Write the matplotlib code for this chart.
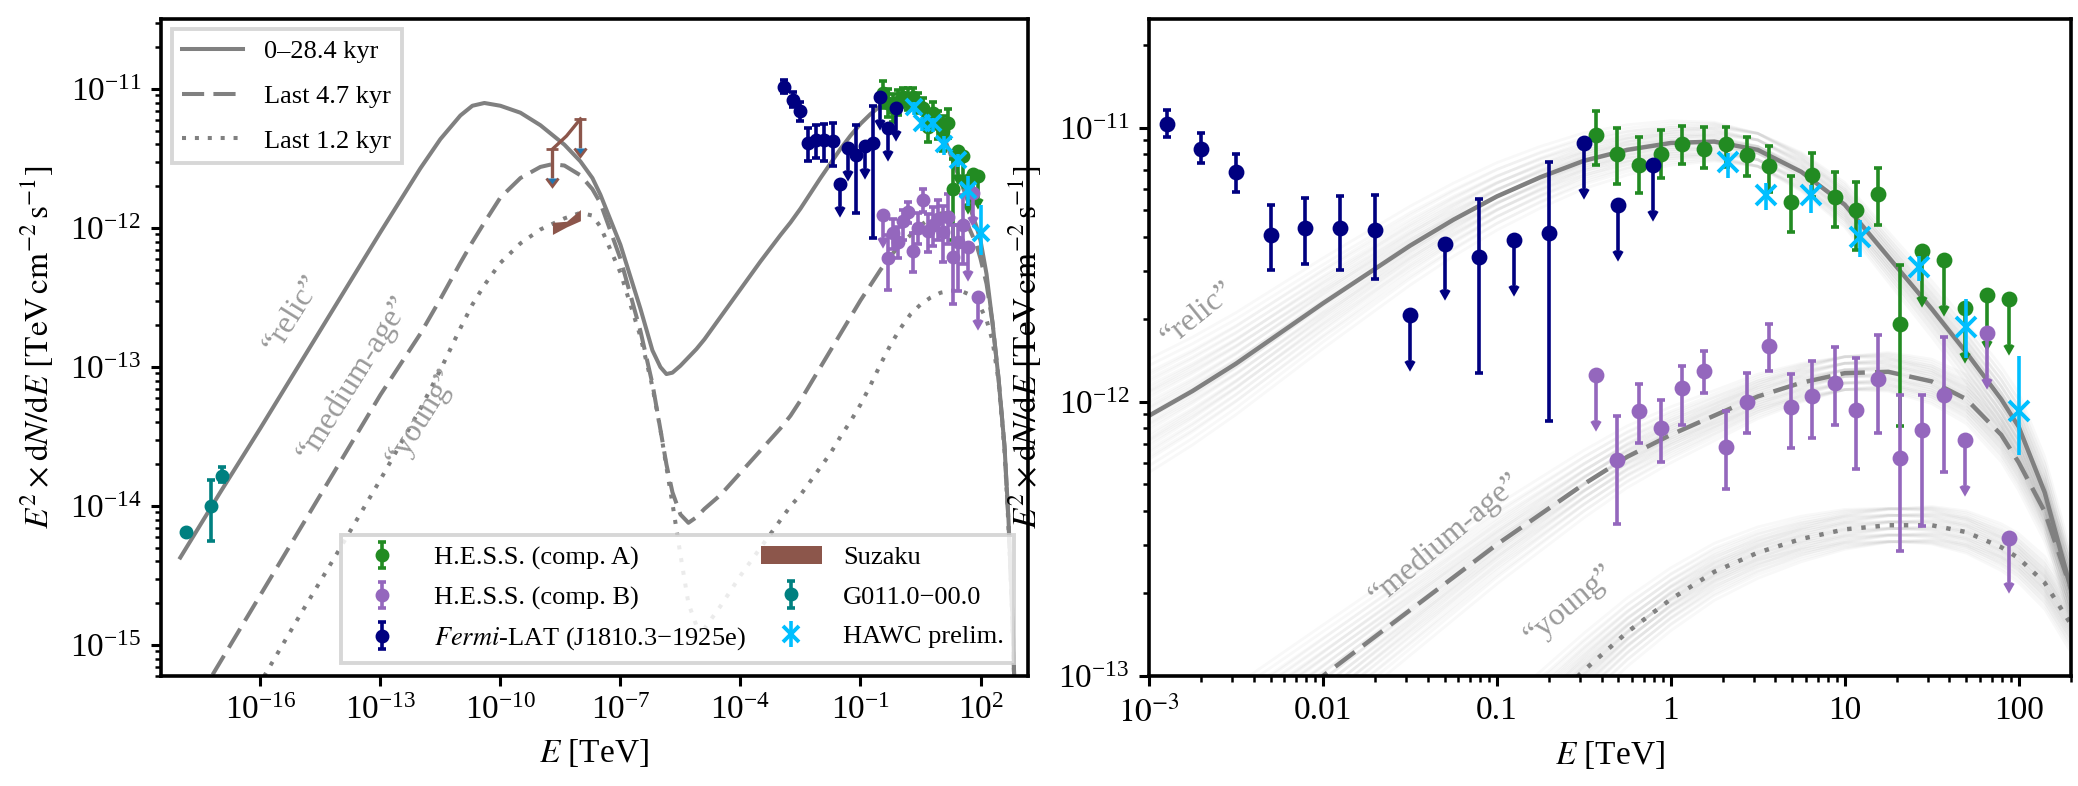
import numpy as np
import matplotlib
matplotlib.use("Agg")
import matplotlib.pyplot as plt
from matplotlib.ticker import LogLocator, NullFormatter, NullLocator, FixedLocator

plt.rcParams['font.family'] = 'serif'
plt.rcParams['font.serif'] = ['Liberation Serif', 'DejaVu Serif']
plt.rcParams['mathtext.fontset'] = 'stix'

# ---------------- model curves (log10 E [TeV], log10 E^2 dN/dE) ----------------
model_logE = [-18, -17, -16, -15, -14, -13, -12, -11.5, -11, -10.7, -10.4, -10, -9.5, -9,
              -8.7, -8.4, -8, -7.7, -7.5, -7, -6.5, -6.2, -6, -5.85, -5.7, -5.5, -5.3,
              -5.1, -4.9, -4.5, -4, -3.5, -3,
              -2.75, -2.5, -2.25, -2, -1.75, -1.5, -1.25, -1, -0.75, -0.5, -0.25, 0,
              0.25, 0.5, 0.75, 1.0, 1.25, 1.5, 1.7, 1.9, 2.0, 2.15, 2.3, 2.45, 2.6, 2.7,
              2.8, 2.87]
relic_logF = [-14.37, -13.90, -13.44, -12.97, -12.50, -12.03, -11.57, -11.36, -11.19, -11.12,
              -11.10, -11.12, -11.17, -11.26, -11.33, -11.40, -11.52, -11.64, -11.76, -12.12,
              -12.58, -12.88, -13.00, -13.05, -13.04, -12.99, -12.93, -12.87, -12.80, -12.64,
              -12.44, -12.24, -12.05,
              -11.96, -11.86, -11.75, -11.64, -11.535, -11.43, -11.335, -11.25, -11.18,
              -11.12, -11.08, -11.055, -11.05, -11.08, -11.16, -11.28, -11.47, -11.66,
              -11.82, -11.99, -12.09, -12.33, -12.68, -13.08, -13.57, -14.10, -14.80, -15.50]
medium_logF = [-15.60, -15.12, -14.64, -14.16, -13.68, -13.20, -12.76, -12.51, -12.25, -12.10,
               -11.96, -11.78, -11.64, -11.56, -11.54, -11.55, -11.62, -11.72, -11.82, -12.22,
               -12.74, -13.12, -13.45, -13.70, -13.90, -14.06, -14.12, -14.08, -14.02, -13.92,
               -13.76, -13.60, -13.44,
               -13.35, -13.24, -13.12, -13.00, -12.88, -12.76, -12.64, -12.52, -12.41,
               -12.30, -12.20, -12.12, -12.05, -11.98, -11.93, -11.895, -11.89, -11.925,
               -11.99, -12.12, -12.22, -12.40, -12.68, -13.08, -13.57, -14.12, -14.82, -15.52]
young_logF = [-16.23, -15.75, -15.27, -14.78, -14.30, -13.81, -13.30, -13.02, -12.72, -12.55,
              -12.41, -12.25, -12.11, -12.01, -11.97, -11.93, -11.89, -11.91, -11.99, -12.32,
              -12.78, -13.14, -13.45, -13.72, -13.98, -14.35, -14.70, -14.86, -14.88, -14.72,
              -14.50, -14.30, -14.10,
              -14.00, -13.92, -13.82, -13.72, -13.62, -13.50, -13.39, -13.27, -13.13,
              -12.98, -12.84, -12.72, -12.62, -12.55, -12.50, -12.465, -12.45, -12.45,
              -12.475, -12.53, -12.57, -12.66, -12.81, -13.10, -13.60, -14.15, -14.85, -15.55]

# ---------------- data ----------------
hess_E = [0.37, 0.49, 0.656, 0.875, 1.16, 1.55, 2.07, 2.75, 3.66, 4.88, 6.5, 8.74, 11.6,
          15.5, 20.7, 27.8, 37.0, 49.3, 65.6, 87.5]
hessA_F = [9.4e-12, 8.0e-12, 7.33e-12, 8.04e-12, 8.76e-12, 8.4e-12, 8.76e-12, 7.94e-12,
           7.27e-12, 5.38e-12, 6.74e-12, 5.58e-12, 5.0e-12, 5.74e-12, 1.92e-12, 3.56e-12,
           3.29e-12, 2.21e-12, 2.46e-12, 2.38e-12]
hessA_lo = [7.3e-12, 6.25e-12, 5.77e-12, 6.55e-12, 7.4e-12, 7.13e-12, 7.2e-12, 6.7e-12,
            5.85e-12, 4.18e-12, 5.61e-12, 4.35e-12, 3.57e-12, 4.42e-12, 8.15e-13,
            np.nan, np.nan, np.nan, np.nan, np.nan]
hessA_hi = [1.15e-11, 1.0e-11, 9.24e-12, 9.86e-12, 1.02e-11, 1.01e-11, 1.01e-11, 9.3e-12,
            8.57e-12, 6.65e-12, 8.1e-12, 6.93e-12, 6.37e-12, 7.17e-12, 3.15e-12,
            np.nan, np.nan, np.nan, np.nan, np.nan]
hessA_ul = [False] * 15 + [True] * 5

hessB_F = [1.25e-12, 6.14e-13, 9.24e-13, 8.0e-13, 1.12e-12, 1.3e-12, 6.87e-13, 1.0e-12,
           1.6e-12, 9.56e-13, 1.05e-12, 1.17e-12, 9.37e-13, 1.21e-12, 6.22e-13, 7.9e-13,
           1.06e-12, 7.27e-13, 1.78e-12, 3.2e-13]
hessB_lo = [np.nan, 3.59e-13, 7.07e-13, 6.05e-13, 8.26e-13, 1.08e-12, 4.83e-13, 7.7e-13,
            1.3e-12, 6.78e-13, 7.38e-13, 8.26e-13, 5.7e-13, 7.7e-13, 2.86e-13, 3.54e-13,
            5.56e-13, np.nan, np.nan, np.nan]
hessB_hi = [np.nan, 8.86e-13, 1.16e-12, 1.02e-12, 1.35e-12, 1.53e-12, 9.24e-13, 1.28e-12,
            1.92e-12, 1.26e-12, 1.41e-12, 1.58e-12, 1.45e-12, 1.75e-12, 1.06e-12, 1.06e-12,
            1.72e-12, np.nan, np.nan, np.nan]
hessB_ul = [True] + [False] * 16 + [True] * 3

fermi_E = [1.26e-3, 2.0e-3, 3.16e-3, 5.0e-3, 7.9e-3, 1.26e-2, 2.0e-2, 3.16e-2, 5.0e-2,
           7.9e-2, 0.126, 0.2, 0.316, 0.5, 0.79]
fermi_F = [1.03e-11, 8.4e-12, 6.9e-12, 4.08e-12, 4.33e-12, 4.3e-12, 4.23e-12, 2.08e-12,
           3.78e-12, 3.38e-12, 3.89e-12, 4.12e-12, 8.8e-12, 5.23e-12, 7.3e-12]
fermi_lo = [9.3e-12, 7.44e-12, 5.85e-12, 3.02e-12, 3.18e-12, 3.04e-12, 2.8e-12, np.nan,
            np.nan, 1.28e-12, np.nan, 8.5e-13, np.nan, np.nan, np.nan]
fermi_hi = [1.16e-11, 9.6e-12, 8.05e-12, 5.23e-12, 5.53e-12, 5.65e-12, 5.69e-12, np.nan,
            np.nan, 5.5e-12, np.nan, 7.5e-12, np.nan, np.nan, np.nan]
fermi_ul = [False] * 7 + [True, True, False, True, False, True, True, True]

hawc_E = [2.12, 3.54, 6.38, 12.2, 26.8, 50.0, 100.0]
hawc_F = [7.48e-12, 5.69e-12, 5.69e-12, 4.0e-12, 3.1e-12, 1.87e-12, 9.25e-13]
hawc_lo = [6.55e-12, 5.0e-12, 4.88e-12, 3.38e-12, 2.77e-12, 1.45e-12, 6.4e-13]
hawc_hi = [8.1e-12, 6.28e-12, 6.2e-12, 4.6e-12, 3.4e-12, 2.38e-12, 1.47e-12]

radio_E = [1.35e-18, 5.75e-18, 1.12e-17]
radio_F = [6.5e-15, 1.0e-14, 1.66e-14]
radio_lo = [6.5e-15, 5.6e-15, 1.48e-14]
radio_hi = [6.5e-15, 1.55e-14, 1.9e-14]

suzaku_E = [2e-9, 4.5e-9, 1e-8]
suzaku_lo = [0.90e-12, 1.02e-12, 1.13e-12]
suzaku_hi = [1.10e-12, 1.12e-12, 1.36e-12]
suzaku_ul = [3.7e-12, 4.6e-12, 6.1e-12]

# ---------------- styles ----------------
C_A, C_B, C_F = '#228b22', '#9467bd', '#000080'
C_H, C_R, C_S = '#00bfff', '#008080', '#8c564b'
GREY = '#808080'
LS = {'relic': '-', 'medium': (0, (5.5, 2.3)), 'young': (0, (1, 2.2))}


def points(ax, E, F, lo, hi, ul, color, label, ms):
    F = np.asarray(F)
    lo = np.asarray(lo, float)
    hi = np.asarray(hi, float)
    ul = np.asarray(ul, bool)
    elo = np.where(ul, 0.32 * F, F - np.nan_to_num(lo))
    ehi = np.where(ul, 0.0, np.nan_to_num(hi) - F)
    return ax.errorbar(E, F, yerr=[elo, ehi], uplims=ul, fmt='o', color=color, ms=ms,
                       elinewidth=1.3, capsize=1.6, capthick=1.3, label=label, zorder=5)


def hawc(ax, ms, label=None):
    F = np.asarray(hawc_F)
    return ax.errorbar(hawc_E, F, yerr=[F - np.asarray(hawc_lo), np.asarray(hawc_hi) - F],
                       fmt='x', color=C_H, ms=ms, mew=1.4, elinewidth=1.3, capsize=0,
                       label=label, zorder=6)


logE = np.asarray(model_logE)
E_mod = 10 ** logE
curves = [('relic', relic_logF, 0.5), ('medium', medium_logF, 1.0), ('young', young_logF, 1.3)]

fig = plt.figure(figsize=(10.39, 3.93), dpi=200)
ax1 = fig.add_axes([0.0775, 0.140, 0.417, 0.836])
ax2 = fig.add_axes([0.553, 0.140, 0.4436, 0.836])

# ---------------- left panel ----------------
labels = {'relic': '0–28.4 kyr', 'medium': 'Last 4.7 kyr', 'young': 'Last 1.2 kyr'}
line_handles = []
for key, lf, _ in curves:
    h, = ax1.plot(E_mod, 10 ** np.asarray(lf), color=GREY, lw=1.45, ls=LS[key],
                  label=labels[key], zorder=2)
    line_handles.append(h)

hA = points(ax1, hess_E, hessA_F, hessA_lo, hessA_hi, hessA_ul, C_A, 'H.E.S.S. (comp. A)', 4)
hB = points(ax1, hess_E, hessB_F, hessB_lo, hessB_hi, hessB_ul, C_B, 'H.E.S.S. (comp. B)', 4)
hF = points(ax1, fermi_E, fermi_F, fermi_lo, fermi_hi, fermi_ul, C_F,
            r'$\mathit{Fermi}$-LAT (J1810.3−1925e)', 4)
hG = points(ax1, radio_E, radio_F, radio_lo, radio_hi, [False] * 3, C_R, 'G011.0−00.0', 4)
hH = hawc(ax1, 5.5, 'HAWC prelim.')
hS = ax1.fill_between(suzaku_E, suzaku_lo, suzaku_hi, color=C_S, lw=0, label='Suzaku', zorder=4)
ax1.plot(suzaku_E, suzaku_ul, color=C_S, lw=1.2, zorder=4)
ax1.errorbar([suzaku_E[0], suzaku_E[-1]], [suzaku_ul[0], suzaku_ul[-1]],
             yerr=[[0.38 * suzaku_ul[0], 0.38 * suzaku_ul[-1]], [0, 0]], uplims=True,
             fmt='none', ecolor=C_S, elinewidth=1.2, capsize=2, zorder=4)

ax1.set_xscale('log')
ax1.set_yscale('log')
ax1.set_xlim(3.3e-19, 1.5e3)
ax1.set_ylim(6e-16, 3.2e-11)
ax1.xaxis.set_major_locator(FixedLocator([10.0 ** k for k in range(-16, 3, 3)]))
ax1.xaxis.set_minor_locator(NullLocator())
ax1.yaxis.set_major_locator(FixedLocator([10.0 ** k for k in range(-15, -10)]))
ax1.yaxis.set_minor_locator(LogLocator(base=10, subs=np.arange(2, 10), numticks=100))
ax1.yaxis.set_minor_formatter(NullFormatter())

txt = dict(color='#9a9a9a', fontsize=11.5, ha='center', va='center', zorder=3)
ax1.text(10 ** -15.2, 10 ** -12.62, '“relic”', rotation=58, **txt)
ax1.text(10 ** -13.65, 10 ** -13.08, '“medium-age”', rotation=58, **txt)
ax1.text(10 ** -11.95, 10 ** -13.36, '“young”', rotation=58, **txt)

leg1 = ax1.legend(handles=line_handles, loc='upper left', fontsize=9.5, fancybox=False,
                  edgecolor='#d0d0d0', framealpha=0.85, handlelength=2.3,
                  borderaxespad=0.4, labelspacing=0.8)
leg1.get_frame().set_linewidth(1.4)
leg1.set_zorder(10)
ax1.add_artist(leg1)
leg2 = ax1.legend(handles=[hA, hB, hF, hS, hG, hH], loc='lower right', ncol=2, fontsize=9.5,
                  fancybox=False, edgecolor='#d0d0d0', framealpha=0.85, handlelength=2.3,
                  handletextpad=0.8, columnspacing=0.6, labelspacing=0.6)
leg2.get_frame().set_linewidth(1.4)
leg2.set_zorder(10)

# ---------------- right panel ----------------
for key, lf, pivot in curves:
    lf = np.asarray(lf)
    for b in np.linspace(-0.06, 0.06, 6):
        for c in np.linspace(-0.042, 0.042, 6):
            ax2.plot(E_mod, 10 ** (lf + b + c * (logE - pivot)),
                     color='0.5', lw=1.0, alpha=0.055, zorder=1)
    ax2.plot(E_mod, 10 ** lf, color=GREY, lw=1.6, ls=LS[key], zorder=2)

points(ax2, hess_E, hessA_F, hessA_lo, hessA_hi, hessA_ul, C_A, None, 4.7)
points(ax2, hess_E, hessB_F, hessB_lo, hessB_hi, hessB_ul, C_B, None, 4.7)
points(ax2, fermi_E, fermi_F, fermi_lo, fermi_hi, fermi_ul, C_F, None, 4.7)
hawc(ax2, 7)

ax2.set_xscale('log')
ax2.set_yscale('log')
ax2.set_xlim(1e-3, 200)
ax2.set_ylim(1e-13, 2.5e-11)
ax2.set_xticks([1e-3, 1e-2, 1e-1, 1, 10, 100])
ax2.set_xticklabels([r'$10^{-3}$', '0.01', '0.1', '1', '10', '100'])
ax2.xaxis.set_minor_locator(LogLocator(base=10, subs=np.arange(2, 10), numticks=100))
ax2.xaxis.set_minor_formatter(NullFormatter())
ax2.yaxis.set_major_locator(FixedLocator([1e-13, 1e-12, 1e-11]))
ax2.yaxis.set_minor_locator(LogLocator(base=10, subs=np.arange(2, 10), numticks=100))
ax2.yaxis.set_minor_formatter(NullFormatter())

ax2.text(10 ** -2.72, 10 ** -11.68, '“relic”', rotation=39, **txt)
ax2.text(10 ** -1.3, 10 ** -12.5, '“medium-age”', rotation=40, **txt)
ax2.text(10 ** -0.58, 10 ** -12.74, '“young”', rotation=40, **txt)

ylab = r'$E^2 \times \mathrm{d}N/\mathrm{d}E\ [\mathrm{TeV\,cm^{-2}\,s^{-1}}]$'
for ax in (ax1, ax2):
    ax.set_xlabel(r'$E$ [TeV]', fontsize=12)
    ax.set_ylabel(ylab, fontsize=12, labelpad=5)
    ax.tick_params(which='major', direction='out', length=3.6, width=1.1, labelsize=12)
    ax.tick_params(which='minor', direction='out', length=2.0, width=0.9)
    for s in ax.spines.values():
        s.set_linewidth(1.3)

fig.savefig('out.png', dpi=200)
